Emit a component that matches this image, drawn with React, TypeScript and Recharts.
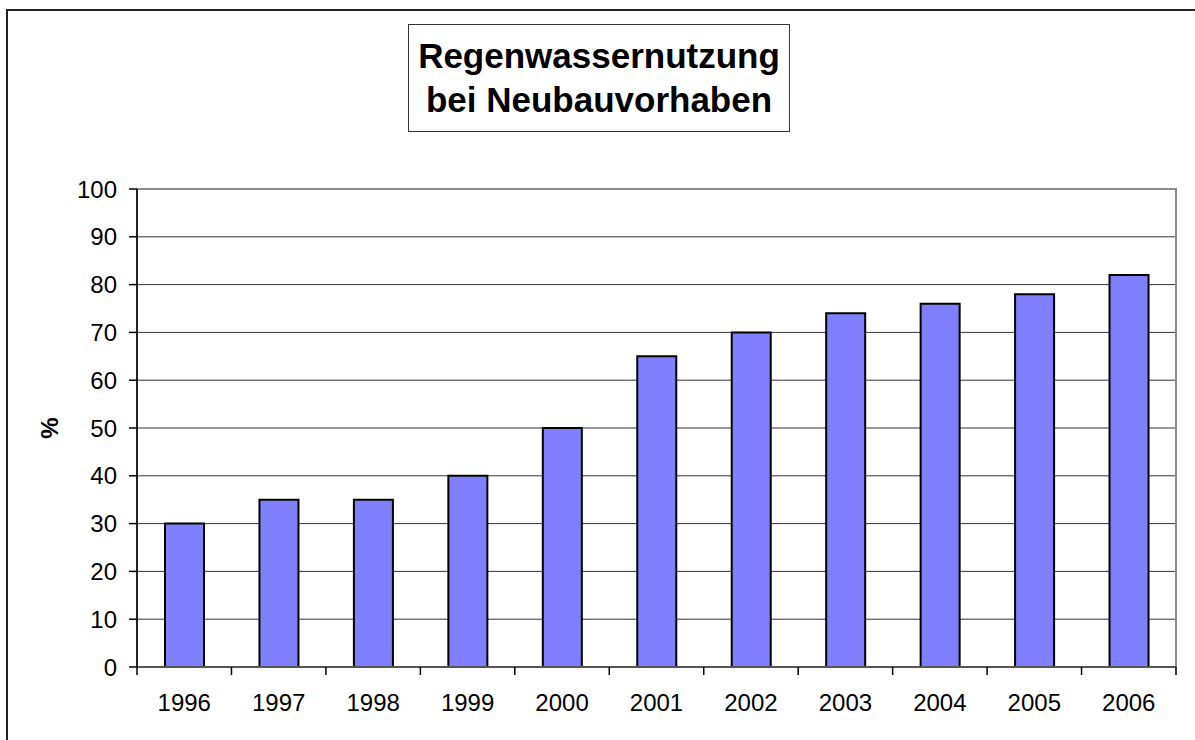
import React from "react";
import {
  Bar,
  BarChart,
  CartesianGrid,
  ReferenceArea,
  XAxis,
  YAxis,
} from "recharts";

const years = ["1996", "1997", "1998", "1999", "2000", "2001", "2002", "2003", "2004", "2005", "2006"];
const shares = [30, 35, 35, 40, 50, 65, 70, 74, 76, 78, 82];
const yTicks = [0, 10, 20, 30, 40, 50, 60, 70, 80, 90, 100];
const titleLines = ["Regenwassernutzung", "bei Neubauvorhaben"];
const yLabel = "%";

const W = 1195;
const H = 740;
const M = { top: 189, right: 19, left: 0, bottom: 22 };
const Y_AXIS_W = 137;
const X_AXIS_H = 51;
const FONT = "'Liberation Sans', Arial, sans-serif";
const BAND = (W - M.left - M.right - Y_AXIS_W) / years.length;

const data = years.map((year, i) => ({ year, value: shares[i] }));

function YearTick(props: any) {
  const { x, y, payload, index } = props;
  const left = x - BAND / 2;
  const right = x + BAND / 2;
  return (
    <g>
      <line x1={left} x2={left} y1={y} y2={y + 8} stroke="#000" strokeWidth={1.5} />
      {index === years.length - 1 && (
        <line x1={right} x2={right} y1={y} y2={y + 8} stroke="#000" strokeWidth={1.5} />
      )}
      <text x={x} y={y + 27} dy="0.71em" textAnchor="middle" fill="#000" fontSize={24} fontFamily={FONT}>
        {payload.value}
      </text>
    </g>
  );
}

function PercentLabel(props: any) {
  const { viewBox } = props;
  const cy = viewBox.y + viewBox.height / 2;
  const cx = 58;
  return (
    <text
      x={cx}
      y={cy}
      textAnchor="middle"
      transform={`rotate(-90, ${cx}, ${cy})`}
      fontSize={24}
      fontWeight="bold"
      fontFamily={FONT}
      fill="#000"
    >
      {yLabel}
    </text>
  );
}

export default function App() {
  return (
    <div style={{ position: "absolute", left: 0, top: 0, width: W, height: H, overflow: "hidden", background: "#fff" }}>
      <div
        style={{
          position: "absolute",
          left: 6,
          top: 9,
          width: W + 20,
          height: H + 20,
          border: "2px solid #222",
          boxSizing: "border-box",
        }}
      />
      <div
        style={{
          position: "absolute",
          left: 408,
          top: 24,
          width: 382,
          height: 108,
          border: "1px solid #333",
          boxSizing: "border-box",
          background: "#fff",
          paddingTop: 9,
          textAlign: "center",
          fontFamily: FONT,
          fontWeight: "bold",
          fontSize: 35,
          lineHeight: "44px",
          color: "#000",
          whiteSpace: "nowrap",
        }}
      >
        {titleLines.map((t) => (
          <div key={t}>{t}</div>
        ))}
      </div>
      <div style={{ position: "absolute", left: 0, top: 0 }}>
        <BarChart width={W} height={H} data={data} margin={M} barSize={39}>
          <CartesianGrid horizontal vertical={false} stroke="#333" strokeWidth={1} />
          <ReferenceArea y1={0} y2={100} fill="none" stroke="#8a8a8a" strokeWidth={2} ifOverflow="visible" />
          <XAxis
            dataKey="year"
            height={X_AXIS_H}
            tickLine={false}
            tickSize={0}
            tickMargin={0}
            axisLine={{ stroke: "#555", strokeWidth: 2 }}
            tick={<YearTick />}
            interval={0}
          />
          <YAxis
            width={Y_AXIS_W}
            domain={[0, 100]}
            ticks={yTicks}
            interval={0}
            tickSize={8}
            tickMargin={12}
            axisLine={{ stroke: "#000", strokeWidth: 1.5 }}
            tickLine={{ stroke: "#000", strokeWidth: 1.5 }}
            tick={{ fill: "#000", fontSize: 24, fontFamily: FONT }}
            label={<PercentLabel />}
          />
          <Bar dataKey="value" fill="#8080FF" stroke="#000" strokeWidth={2} isAnimationActive={false} />
        </BarChart>
      </div>
    </div>
  );
}
